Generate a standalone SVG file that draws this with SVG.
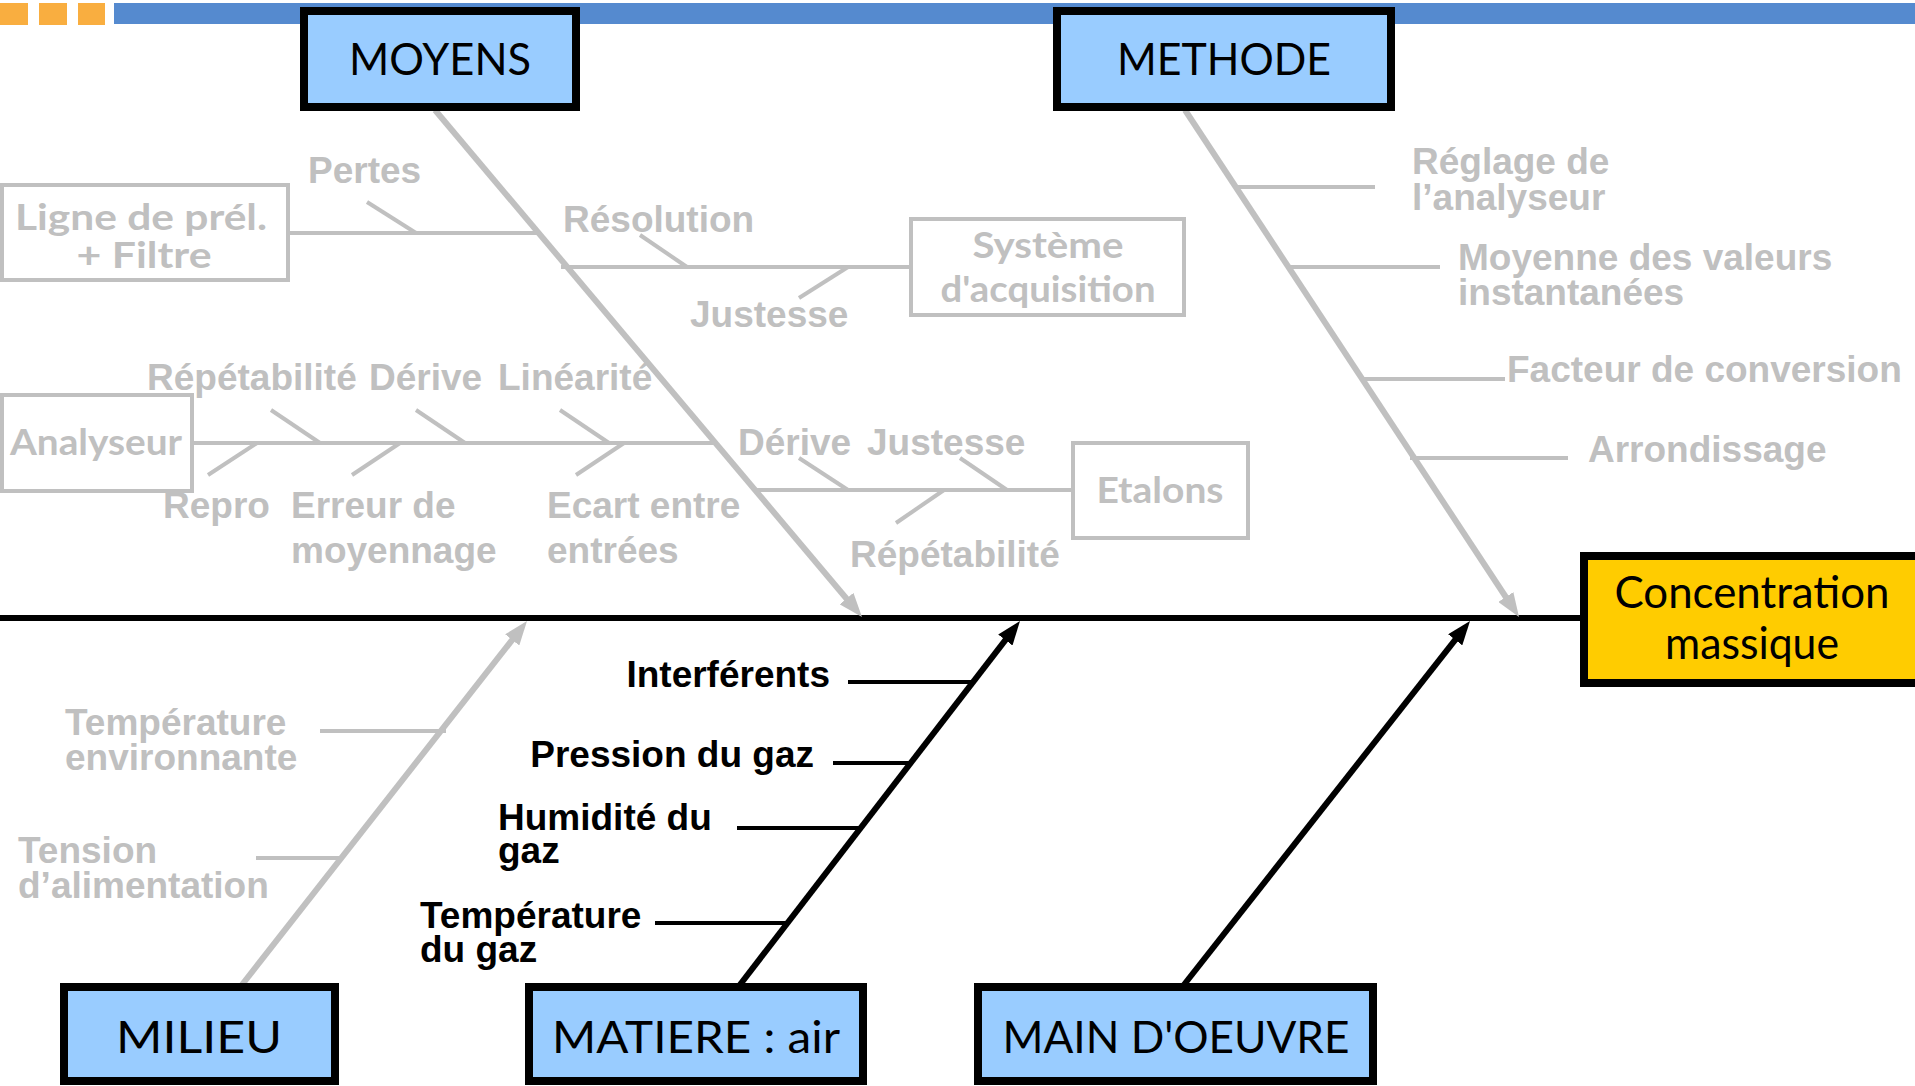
<svg xmlns="http://www.w3.org/2000/svg" width="1915" height="1086" viewBox="0 0 1915 1086">
  <style>
    .node { stroke: #000; stroke-width: 8; }
    .cat { fill: #99CCFF; }
    .effect { fill: #FFCC00; }
    .ntext { font-family: "Comic Sans MS", "Lato", sans-serif; font-size: 44px; fill: #000; text-anchor: middle; }
    .sub { fill: #fff; stroke: #C0C0C0; stroke-width: 4; }
    .stext { font-family: "Comic Sans MS", "Lato", sans-serif; font-size: 36px; font-weight: bold; fill: #C0C0C0; text-anchor: middle; }
    .lbl { font-family: "Liberation Sans", Arial, sans-serif; font-size: 37px; font-weight: bold; fill: #C0C0C0; }
    .lblk { font-family: "Liberation Sans", Arial, sans-serif; font-size: 37px; font-weight: bold; fill: #000; }
    .gbone { stroke: #C0C0C0; stroke-width: 6; fill: none; }
    .gtw { stroke: #C0C0C0; stroke-width: 4; fill: none; }
    .kbone { stroke: #000; stroke-width: 6; fill: none; }
    .ktw { stroke: #000; stroke-width: 4; fill: none; }
  </style>
  <defs>
    <marker id="arrGrey" markerUnits="userSpaceOnUse" markerWidth="24" markerHeight="18" refX="6" refY="9" orient="auto">
      <path d="M0,0 L24,9 L0,18 Z" fill="#C0C0C0"/>
    </marker>
    <marker id="arrBlack" markerUnits="userSpaceOnUse" markerWidth="24" markerHeight="18" refX="6" refY="9" orient="auto">
      <path d="M0,0 L24,9 L0,18 Z" fill="#000"/>
    </marker>
  </defs>

  <rect width="1915" height="1086" fill="#fff"/>

  <!-- header band -->
  <g id="header">
    <rect x="0" y="3" width="28" height="22" fill="#F9AE40"/>
    <rect x="39" y="3" width="28" height="22" fill="#F9AE40"/>
    <rect x="78" y="3" width="27" height="22" fill="#F9AE40"/>
    <rect x="114" y="3" width="1801" height="21" fill="#558ACF"/>
  </g>

  <!-- connectors: spine, main bones, secondary branches and ticks -->
  <g id="connectors">
    <line x1="0" y1="618" x2="1590" y2="618" class="kbone"/>

    <line x1="435" y1="110" x2="850.4" y2="603.2" class="gbone" marker-end="url(#arrGrey)"/>
    <line x1="1185" y1="110" x2="1509.1" y2="602" class="gbone" marker-end="url(#arrGrey)"/>
    <line x1="241" y1="986" x2="515.9" y2="635.2" class="gbone" marker-end="url(#arrGrey)"/>
    <line x1="739" y1="986" x2="1009" y2="635.3" class="kbone" marker-end="url(#arrBlack)"/>
    <line x1="1183" y1="986" x2="1458.9" y2="635.1" class="kbone" marker-end="url(#arrBlack)"/>

    <!-- MOYENS branches -->
    <line x1="290" y1="233" x2="540" y2="233" class="gtw"/>
    <line x1="367" y1="202" x2="416" y2="233" class="gtw"/>
    <line x1="561" y1="267" x2="909" y2="267" class="gtw"/>
    <line x1="640" y1="235" x2="687" y2="267" class="gtw"/>
    <line x1="848" y1="267" x2="799" y2="298" class="gtw"/>
    <line x1="194" y1="443" x2="716" y2="443" class="gtw"/>
    <line x1="271" y1="410" x2="320" y2="443" class="gtw"/>
    <line x1="416" y1="410" x2="465" y2="443" class="gtw"/>
    <line x1="560" y1="410" x2="609" y2="443" class="gtw"/>
    <line x1="257" y1="443" x2="208" y2="475" class="gtw"/>
    <line x1="400" y1="443" x2="352" y2="475" class="gtw"/>
    <line x1="624" y1="443" x2="576" y2="475" class="gtw"/>
    <line x1="756" y1="490" x2="1071" y2="490" class="gtw"/>
    <line x1="799" y1="458" x2="848" y2="490" class="gtw"/>
    <line x1="960" y1="458" x2="1007" y2="490" class="gtw"/>
    <line x1="944" y1="490" x2="896" y2="523" class="gtw"/>

    <!-- METHODE branches -->
    <line x1="1237" y1="187" x2="1375" y2="187" class="gtw"/>
    <line x1="1290" y1="267" x2="1440" y2="267" class="gtw"/>
    <line x1="1363" y1="379" x2="1505" y2="379" class="gtw"/>
    <line x1="1410" y1="458" x2="1568" y2="458" class="gtw"/>

    <!-- MILIEU branches -->
    <line x1="320" y1="731" x2="446" y2="731" class="gtw"/>
    <line x1="256" y1="858" x2="340" y2="858" class="gtw"/>

    <!-- MATIERE branches -->
    <line x1="848" y1="682" x2="973" y2="682" class="ktw"/>
    <line x1="833" y1="763" x2="910" y2="763" class="ktw"/>
    <line x1="737" y1="828" x2="860" y2="828" class="ktw"/>
    <line x1="655" y1="923" x2="786" y2="923" class="ktw"/>
  </g>

  <!-- category nodes -->
  <g id="moyens">
    <rect x="304" y="11" width="272" height="96" class="node cat"/>
    <text x="440" y="75" class="ntext" textLength="182" lengthAdjust="spacingAndGlyphs">MOYENS</text>
  </g>
  <g id="methode">
    <rect x="1057" y="11" width="334" height="96" class="node cat"/>
    <text x="1224" y="75" class="ntext" textLength="214" lengthAdjust="spacingAndGlyphs">METHODE</text>
  </g>
  <g id="milieu">
    <rect x="64" y="987" width="271" height="94" class="node cat"/>
    <text x="199" y="1053" class="ntext" textLength="166" lengthAdjust="spacingAndGlyphs">MILIEU</text>
  </g>
  <g id="matiere">
    <rect x="529" y="987" width="334" height="94" class="node cat"/>
    <text x="696" y="1053" class="ntext" textLength="288" lengthAdjust="spacingAndGlyphs">MATIERE : air</text>
  </g>
  <g id="main-oeuvre">
    <rect x="978" y="987" width="395" height="94" class="node cat"/>
    <text x="1176" y="1053" class="ntext" textLength="347" lengthAdjust="spacingAndGlyphs">MAIN D'OEUVRE</text>
  </g>

  <!-- effect -->
  <g id="effet">
    <rect x="1584" y="556" width="345" height="127" class="node effect"/>
    <text x="1752" y="608" class="ntext" font-size="42" textLength="275" lengthAdjust="spacingAndGlyphs">Concentration</text>
    <text x="1752" y="659" class="ntext" font-size="42" textLength="174" lengthAdjust="spacingAndGlyphs">massique</text>
  </g>

  <!-- sub-cause boxes -->
  <g id="ligne-prel">
    <rect x="2" y="185" width="286" height="95" class="sub"/>
    <text x="141" y="230" class="stext" textLength="252" lengthAdjust="spacingAndGlyphs">Ligne de prél.</text>
    <text x="144" y="268" class="stext" textLength="135" lengthAdjust="spacingAndGlyphs">+ Filtre</text>
  </g>
  <g id="systeme">
    <rect x="911" y="219" width="273" height="96" class="sub"/>
    <text x="1048" y="258" class="stext" textLength="151" lengthAdjust="spacingAndGlyphs">Système</text>
    <text x="1048" y="302" class="stext" textLength="215" lengthAdjust="spacingAndGlyphs">d'acquisition</text>
  </g>
  <g id="analyseur">
    <rect x="2" y="395" width="190" height="96" class="sub"/>
    <text x="96" y="455" class="stext" textLength="172" lengthAdjust="spacingAndGlyphs">Analyseur</text>
  </g>
  <g id="etalons">
    <rect x="1073" y="443" width="175" height="95" class="sub"/>
    <text x="1160" y="503" class="stext" textLength="127" lengthAdjust="spacingAndGlyphs">Etalons</text>
  </g>

  <!-- cause labels -->
  <g id="labels-moyens">
    <text x="308" y="183" class="lbl">Pertes</text>
    <text x="563" y="232" class="lbl">Résolution</text>
    <text x="690" y="327" class="lbl">Justesse</text>
    <text x="147" y="390" class="lbl">Répétabilité</text>
    <text x="369" y="390" class="lbl">Dérive</text>
    <text x="498" y="390" class="lbl">Linéarité</text>
    <text x="163" y="518" class="lbl">Repro</text>
    <text x="291" y="518" class="lbl">Erreur de</text>
    <text x="291" y="563" class="lbl">moyennage</text>
    <text x="547" y="518" class="lbl">Ecart entre</text>
    <text x="547" y="563" class="lbl">entrées</text>
    <text x="738" y="455" class="lbl">Dérive</text>
    <text x="867" y="455" class="lbl">Justesse</text>
    <text x="850" y="567" class="lbl">Répétabilité</text>
  </g>
  <g id="labels-methode">
    <text x="1412" y="174" class="lbl">Réglage de</text>
    <text x="1412" y="210" class="lbl">l’analyseur</text>
    <text x="1458" y="270" class="lbl">Moyenne des valeurs</text>
    <text x="1458" y="305" class="lbl">instantanées</text>
    <text x="1507" y="382" class="lbl">Facteur de conversion</text>
    <text x="1588" y="462" class="lbl">Arrondissage</text>
  </g>
  <g id="labels-milieu">
    <text x="65" y="735" class="lbl">Température</text>
    <text x="65" y="770" class="lbl">environnante</text>
    <text x="18" y="863" class="lbl">Tension</text>
    <text x="18" y="898" class="lbl">d’alimentation</text>
  </g>
  <g id="labels-matiere">
    <text x="830" y="687" class="lblk" text-anchor="end">Interférents</text>
    <text x="814" y="767" class="lblk" text-anchor="end">Pression du gaz</text>
    <text x="498" y="830" class="lblk">Humidité du</text>
    <text x="498" y="863" class="lblk">gaz</text>
    <text x="420" y="928" class="lblk">Température</text>
    <text x="420" y="962" class="lblk">du gaz</text>
  </g>
</svg>
